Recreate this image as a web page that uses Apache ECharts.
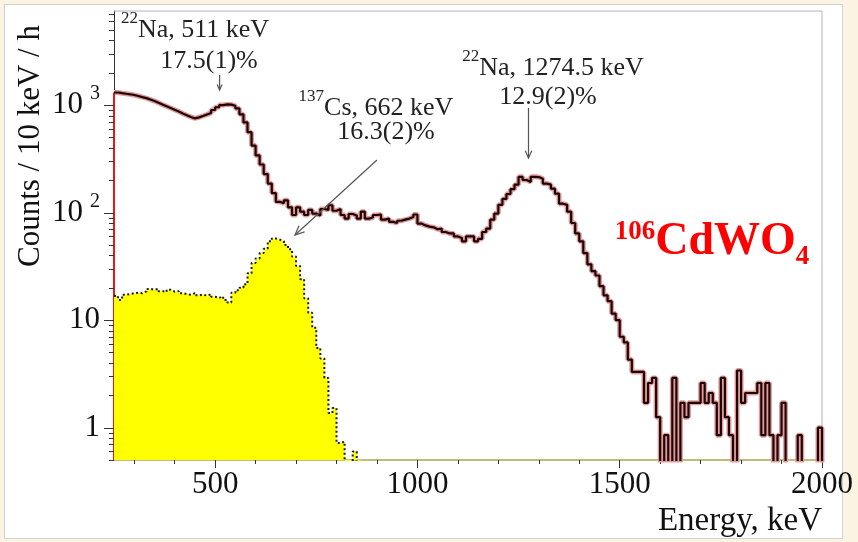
<!DOCTYPE html>
<html>
<head>
<meta charset="utf-8">
<script src="https://cdn.jsdelivr.net/npm/echarts@6/dist/echarts.min.js"></script>
<style>
  html, body { margin: 0; padding: 0; background: #fbf4e2; }
  #frame { position: absolute; left: 4px; top: 4px; width: 837px; height: 533px; background: #ffffff; border: 1px solid #d2d2d2; }
  #chart { position: absolute; left: 0; top: 0; width: 858px; height: 542px; }
</style>
</head>
<body>
<div id="frame"></div>
<div id="chart"></div>
<script>
// Energy spectra of a 106CdWO4 scintillator: 22Na source and 137Cs source.
const binWidth = 10;      // keV per channel
const energyStart = 250;  // lower edge of the first channel, keV

// 22Na spectrum, counts / 10 keV / h, one row per 100 keV starting at 250 keV
const naCounts = [
  1310, 1290, 1275, 1260, 1240, 1215, 1185, 1160, 1125, 1090,
  1050, 1010, 975, 940, 905, 870, 835, 805, 775, 752,
  768, 792, 818, 845, 900, 955, 1000, 1015, 1010, 985,
  930, 820, 690, 560, 420, 340, 280, 228, 186, 152,
  126, 122, 130, 112, 95, 112, 102, 95, 106, 98,
  94, 108, 106, 117, 104, 108, 95, 88, 97, 94,
  88, 102, 88, 90, 95, 96, 86, 88, 82, 80,
  84, 86, 88, 91, 96, 79, 76, 74, 73, 70,
  71, 66, 64, 64, 60, 58, 54, 60, 60, 54,
  57, 66, 71, 86, 98, 118, 134, 149, 165, 182,
  215, 201, 193, 215, 214, 206, 186, 182, 167, 150,
  121, 118, 102, 80, 64, 54, 42, 33, 28.5, 26,
  20.7, 17, 15, 11.5, 10, 7, 6.2, 4.3, 3.3, 3.3,
  3.3, 1.7, 2.6, 2.9, 1.25, 0, 0.85, 0, 2.9, 0,
  1.7, 1.25, 1.7, 1.7, 1.7, 2.6, 1.7, 2.1, 1.7, 0.85,
  2.9, 1.25, 0.85, 0, 3.4, 1.7, 2.1, 2.1, 2.1, 2.6,
  0.85, 2.6, 0.85, 0, 0.85, 1.7, 0, 0, 0, 0.85,
  0, 0, 0, 0, 1.0
];

// 137Cs spectrum, counts / 10 keV / h, starting at 250 keV
const csCounts = [
  16.8, 15.4, 17.2, 17.5, 17.8, 18, 17.8, 18.5, 19.5, 19.2,
  19.5, 18.6, 18.3, 19.2, 18.4, 18.6, 17.8, 17.5, 17.2, 17.8,
  17, 17.3, 16.9, 17.4, 16.5, 16.1, 16.6, 15.4, 14.6, 18,
  19, 20, 21.6, 27.3, 34, 37.5, 42, 46, 54, 57.5,
  56, 54, 50, 45.5, 39, 31.8, 24, 16, 11.7, 8.5,
  5.5, 4.4, 2.9, 1.37, 1.52, 0.72, 0.74, 0, 0, 0.6,
  0
];

const xMajorTicks = [500, 1000, 1500, 2000];
const xMinorTicks = [300, 400, 600, 700, 800, 900, 1100, 1200, 1300, 1400, 1600, 1700, 1800, 1900];
const xMin = 250, xMax = 2000;
const yMin = 0.5, yMax = 7500;
const emptyLevel = 0.05;  // empty channels are drawn below the axis floor

const SERIF = '"Liberation Serif", "Times New Roman", serif';

// step points: lower channel edges plus the closing edge
function histPoints(counts) {
  const pts = counts.map((c, i) => [energyStart + i * binWidth, c > 0 ? c : emptyLevel]);
  pts.push([energyStart + counts.length * binWidth, emptyLevel]);
  return pts;
}

const naPts = histPoints(naCounts);
const csPts = histPoints(csCounts);

const chart = echarts.init(document.getElementById('chart'), null, { renderer: 'canvas' });

chart.setOption({
  backgroundColor: 'transparent',
  animation: false,
  grid: { left: 114, right: 36, top: 11, bottom: 82 },
  xAxis: [
    {
      type: 'value', min: xMin, max: xMax,
      axisLine: { show: true, onZero: false, lineStyle: { color: '#aaa653', width: 1.5 } },
      axisTick: { show: true, customValues: xMajorTicks, length: 8, lineStyle: { color: '#333', width: 1 } },
      axisLabel: {
        show: true, customValues: xMajorTicks, fontFamily: SERIF, fontSize: 31, color: '#111', margin: 9,
        formatter: function (v) { return String(v); }
      },
      splitLine: { show: false }
    },
    {
      type: 'value', min: xMin, max: xMax, position: 'bottom',
      axisLine: { show: false },
      axisTick: { show: true, customValues: xMinorTicks, length: 4, lineStyle: { color: '#333', width: 1 } },
      axisLabel: { show: false },
      splitLine: { show: false }
    }
  ],
  yAxis: [{
    type: 'log', logBase: 10, min: yMin, max: yMax,
    axisLine: { show: true, onZero: false, lineStyle: { color: '#333', width: 1 } },
    axisTick: { show: false },
    splitLine: { show: false },
    axisLabel: {
      margin: 14,
      formatter: function (v) {
        const p = Math.log10(v), r = Math.round(p);
        if (Math.abs(p - r) > 1e-6) return '';
        if (r === 0) return '{b|1}';
        if (r === 1) return '{b|10}';
        return '{b|10}{s|' + r + '}';
      },
      rich: {
        b: { fontFamily: SERIF, fontSize: 31, color: '#111', lineHeight: 42, verticalAlign: 'middle' },
        s: { fontFamily: SERIF, fontSize: 20, color: '#111', height: 20, verticalAlign: 'top', padding: [0, 0, 0, 7] }
      }
    }
  }],
  series: [
    {
      name: 'edge', type: 'line', xAxisIndex: 0, yAxisIndex: 0,
      data: [[energyStart, yMin], [energyStart, naCounts[0]]],
      symbol: 'none', silent: true, z: 3,
      lineStyle: { color: '#ee1515', width: 2 }
    },
    {
      name: '22Na halo', type: 'line', step: 'end', data: naPts,
      symbol: 'none', silent: true, z: 2,
      lineStyle: { color: '#e39a9a', width: 5 }
    },
    {
      name: '22Na', type: 'line', step: 'end', data: naPts,
      symbol: 'none', silent: true, z: 3,
      lineStyle: { color: '#1c0404', width: 2.2 }
    },
    {
      name: '137Cs', type: 'line', step: 'end', data: csPts,
      symbol: 'none', silent: true, z: 4,
      lineStyle: { color: '#1a1a1a', width: 2, type: [2, 2.5] },
      areaStyle: { color: '#ffff00', opacity: 1, origin: 'start' }
    }
  ]
});

// ---- decorations placed through the grid's own scales ----
const toPx = (e, v) => chart.convertToPixel({ gridIndex: 0 }, [e, v]);
const [axisX, axisBottom] = toPx(xMin, yMin);
const [axisRight, axisTop] = toPx(xMax, yMax);

const g = [];

// frame on the top and right sides
g.push({ type: 'line', shape: { x1: axisX, y1: axisTop, x2: axisRight, y2: axisTop }, style: { stroke: '#b4b4b4', lineWidth: 1 }, z: 1 });
g.push({ type: 'line', shape: { x1: axisRight, y1: axisTop, x2: axisRight, y2: axisBottom }, style: { stroke: '#b4b4b4', lineWidth: 1 }, z: 1 });

// logarithmic ticks on the y axis: long at decades, short in between
for (let d = -1; d <= 3; d++) {
  for (let m = 1; m <= 9; m++) {
    const v = m * Math.pow(10, d);
    if (v < yMin || v > yMax) continue;
    const y = Math.round(toPx(xMin, v)[1]) + 0.5;
    const len = m === 1 ? 10 : 5;
    g.push({ type: 'line', shape: { x1: axisX - len, y1: y, x2: axisX, y2: y }, style: { stroke: '#333', lineWidth: 1 }, z: 5 });
  }
}

// axis titles
g.push({
  type: 'text', x: 822, y: 521, z: 10,
  style: { text: 'Energy, keV', font: '33px ' + SERIF, fill: '#111', align: 'right', verticalAlign: 'middle' }
});
g.push({
  type: 'text', x: 31, y: 146, rotation: Math.PI / 2, z: 10,
  style: { text: 'Counts / 10 keV / h', font: '31px ' + SERIF, fill: '#111', align: 'center', verticalAlign: 'middle' }
});

// peak annotations
const annRich = {
  m: { fontFamily: SERIF, fontSize: 26, fill: '#222', lineHeight: 39, verticalAlign: 'middle' },
  sup: { fontFamily: SERIF, fontSize: 17, fill: '#222', height: 17, verticalAlign: 'top' }
};
function label(x, y, text) {
  g.push({ type: 'text', x: x, y: y, z: 10, style: { text: text, rich: annRich, align: 'center', verticalAlign: 'middle' } });
}
function arrow(x1, y1, x2, y2, head) {
  const a = Math.atan2(y2 - y1, x2 - x1), s = 0.42;
  g.push({ type: 'line', z: 9, shape: { x1: x1, y1: y1, x2: x2, y2: y2 }, style: { stroke: '#555', lineWidth: 1.2 } });
  g.push({
    type: 'polyline', z: 9,
    shape: { points: [[x2 - head * Math.cos(a - s), y2 - head * Math.sin(a - s)], [x2, y2], [x2 - head * Math.cos(a + s), y2 - head * Math.sin(a + s)]] },
    style: { stroke: '#555', lineWidth: 1.2, fill: 'none' }
  });
}

label(195, 30, '{sup|22}{m|Na, 511 keV}');
label(209, 61, '{m|17.5(1)%}');
const x511 = toPx(511, 1)[0];
arrow(x511, 75, x511, 90, 6);

label(376, 108, '{sup|137}{m|Cs, 662 keV}');
label(386, 132, '{m|16.3(2)%}');
arrow(377, 160, 295, 235, 10);

label(553, 68, '{sup|22}{m|Na, 1274.5 keV}');
label(548, 97, '{m|12.9(2)%}');
const x1274 = toPx(1274.5, 1)[0];
arrow(x1274, 108, x1274, 158, 8);

// crystal label
g.push({
  type: 'text', x: 712, y: 242, z: 10,
  style: {
    text: '{sup|106}{m|CdWO}{sub|4}', align: 'center', verticalAlign: 'middle',
    rich: {
      m: { fontFamily: SERIF, fontSize: 46, fontWeight: 'bold', fill: '#ff0000', lineHeight: 46, verticalAlign: 'middle' },
      sup: { fontFamily: SERIF, fontSize: 27, fontWeight: 'bold', fill: '#ff0000', height: 27, verticalAlign: 'top' },
      sub: { fontFamily: SERIF, fontSize: 27, fontWeight: 'bold', fill: '#ff0000', height: 16, verticalAlign: 'bottom' }
    }
  }
});

chart.setOption({ graphic: g });
</script>
</body>
</html>
